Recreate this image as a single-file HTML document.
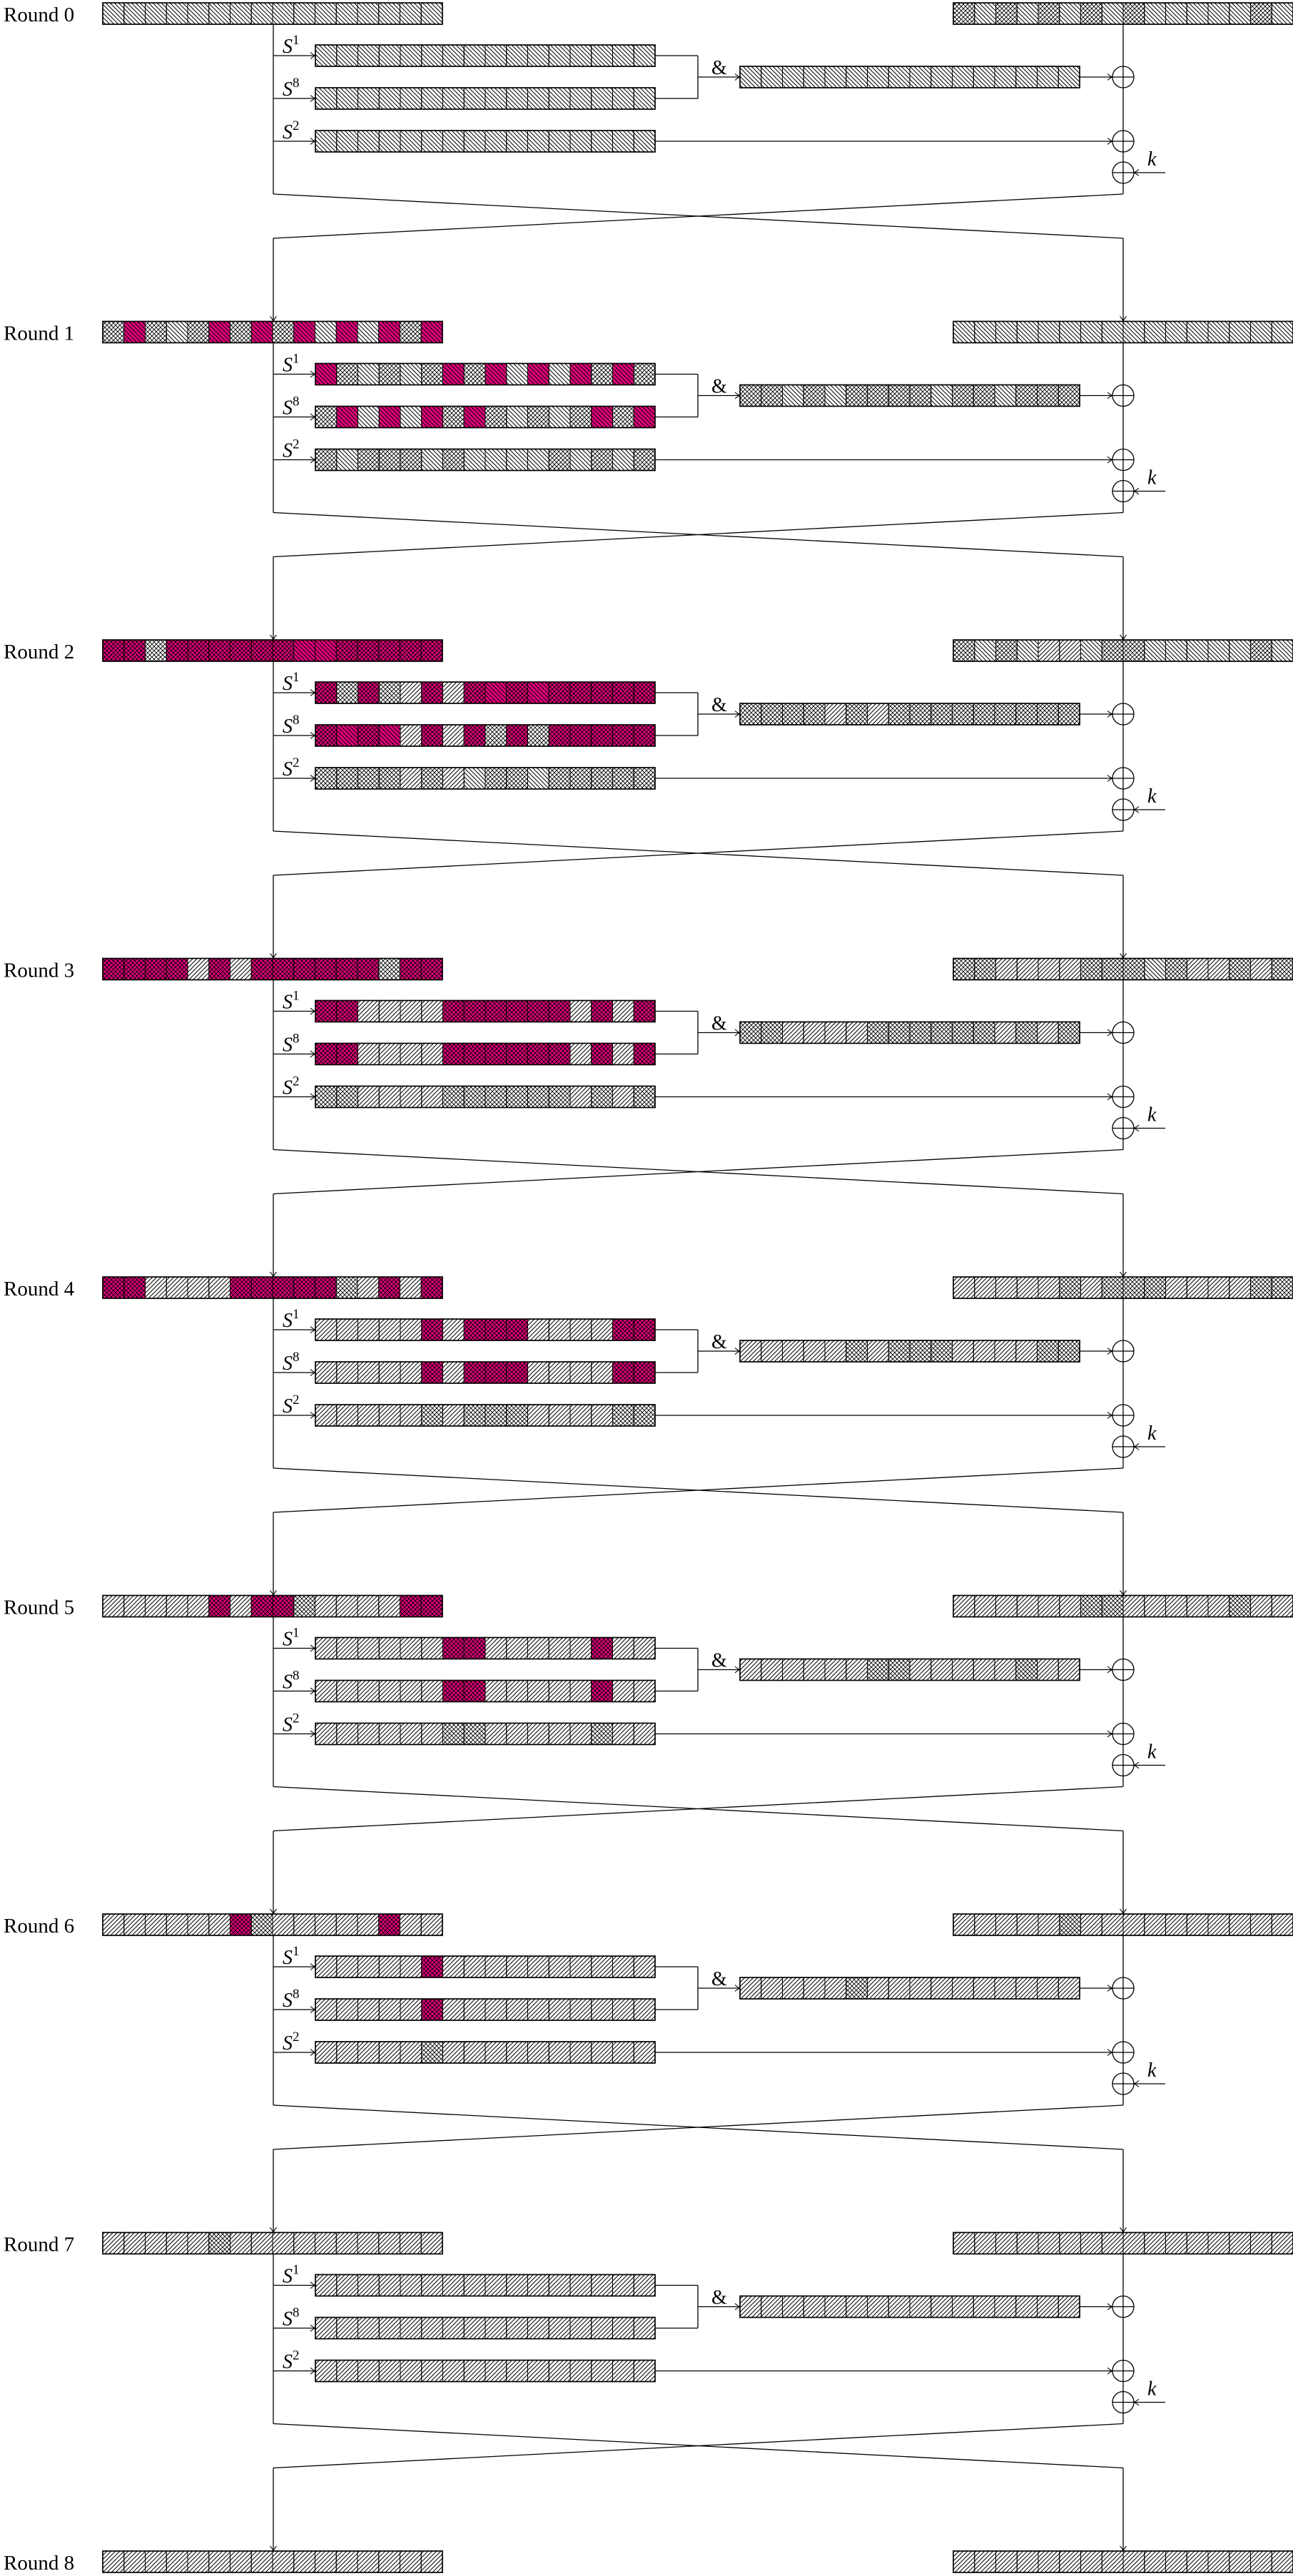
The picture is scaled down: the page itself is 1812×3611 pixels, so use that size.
<!DOCTYPE html>
<html><head><meta charset="utf-8">
<style>
html,body{margin:0;padding:0;background:#fff;}
svg{display:block;}
text{font-family:"Liberation Serif",serif;fill:#000;}
.rl{font-size:29px;}
.s{font-size:28px;font-style:italic;}
.sup{font-size:19px;font-style:normal;}
.amp{font-size:28px;}
.k{font-size:28px;font-style:italic;}
</style></head>
<body>
<svg id="svg" xmlns="http://www.w3.org/2000/svg" width="1812" height="3611" viewBox="0 0 1812 3611">
<defs>
<pattern id="pb" patternUnits="userSpaceOnUse" width="6" height="6"><path d="M0,0L6,6M-1,5L1,7M5,-1L7,1" stroke="#000" stroke-width="1"/></pattern>
<pattern id="pf" patternUnits="userSpaceOnUse" width="6" height="6"><path d="M0,6L6,0M-1,1L1,-1M5,7L7,5" stroke="#000" stroke-width="1"/></pattern>
<pattern id="px" patternUnits="userSpaceOnUse" width="6" height="6"><path d="M0,0L6,6M-1,5L1,7M5,-1L7,1M0,6L6,0M-1,1L1,-1M5,7L7,5" stroke="#000" stroke-width="0.9"/></pattern>
<marker id="ar" markerWidth="12" markerHeight="12" refX="10" refY="6" orient="auto" markerUnits="userSpaceOnUse"><path d="M3,1.5 Q7,5 10,6 Q7,7 3,10.5" fill="none" stroke="#000" stroke-width="1.1"/></marker>
</defs>
<g id="shapes"></g>
<g id="labels">
<text class="rl" x="5" y="30">Round 0</text>
<text class="rl" x="5" y="476.5">Round 1</text>
<text class="rl" x="5" y="923">Round 2</text>
<text class="rl" x="5" y="1369.5">Round 3</text>
<text class="rl" x="5" y="1816">Round 4</text>
<text class="rl" x="5" y="2262.5">Round 5</text>
<text class="rl" x="5" y="2709">Round 6</text>
<text class="rl" x="5" y="3155.5">Round 7</text>
<text class="rl" x="5" y="3602">Round 8</text>

<text class="s" x="396" y="74">S<tspan class="sup" dy="-12">1</tspan></text>
<text class="s" x="396" y="134">S<tspan class="sup" dy="-12">8</tspan></text>
<text class="s" x="396" y="194">S<tspan class="sup" dy="-12">2</tspan></text>
<text class="amp" x="997" y="104">&amp;</text>
<text class="k" x="1608" y="232">k</text>

<text class="s" x="396" y="520.5">S<tspan class="sup" dy="-12">1</tspan></text>
<text class="s" x="396" y="580.5">S<tspan class="sup" dy="-12">8</tspan></text>
<text class="s" x="396" y="640.5">S<tspan class="sup" dy="-12">2</tspan></text>
<text class="amp" x="997" y="550.5">&amp;</text>
<text class="k" x="1608" y="678.5">k</text>

<text class="s" x="396" y="967">S<tspan class="sup" dy="-12">1</tspan></text>
<text class="s" x="396" y="1027">S<tspan class="sup" dy="-12">8</tspan></text>
<text class="s" x="396" y="1087">S<tspan class="sup" dy="-12">2</tspan></text>
<text class="amp" x="997" y="997">&amp;</text>
<text class="k" x="1608" y="1125">k</text>

<text class="s" x="396" y="1413.5">S<tspan class="sup" dy="-12">1</tspan></text>
<text class="s" x="396" y="1473.5">S<tspan class="sup" dy="-12">8</tspan></text>
<text class="s" x="396" y="1533.5">S<tspan class="sup" dy="-12">2</tspan></text>
<text class="amp" x="997" y="1443.5">&amp;</text>
<text class="k" x="1608" y="1571.5">k</text>

<text class="s" x="396" y="1860">S<tspan class="sup" dy="-12">1</tspan></text>
<text class="s" x="396" y="1920">S<tspan class="sup" dy="-12">8</tspan></text>
<text class="s" x="396" y="1980">S<tspan class="sup" dy="-12">2</tspan></text>
<text class="amp" x="997" y="1890">&amp;</text>
<text class="k" x="1608" y="2018">k</text>

<text class="s" x="396" y="2306.5">S<tspan class="sup" dy="-12">1</tspan></text>
<text class="s" x="396" y="2366.5">S<tspan class="sup" dy="-12">8</tspan></text>
<text class="s" x="396" y="2426.5">S<tspan class="sup" dy="-12">2</tspan></text>
<text class="amp" x="997" y="2336.5">&amp;</text>
<text class="k" x="1608" y="2464.5">k</text>

<text class="s" x="396" y="2753">S<tspan class="sup" dy="-12">1</tspan></text>
<text class="s" x="396" y="2813">S<tspan class="sup" dy="-12">8</tspan></text>
<text class="s" x="396" y="2873">S<tspan class="sup" dy="-12">2</tspan></text>
<text class="amp" x="997" y="2783">&amp;</text>
<text class="k" x="1608" y="2911">k</text>

<text class="s" x="396" y="3199.5">S<tspan class="sup" dy="-12">1</tspan></text>
<text class="s" x="396" y="3259.5">S<tspan class="sup" dy="-12">8</tspan></text>
<text class="s" x="396" y="3319.5">S<tspan class="sup" dy="-12">2</tspan></text>
<text class="amp" x="997" y="3229.5">&amp;</text>
<text class="k" x="1608" y="3357.5">k</text>
</g>
</svg>
<script>
(function(){
var NS="http://www.w3.org/2000/svg";
var G=document.getElementById("shapes");
function el(t,a){var e=document.createElementNS(NS,t);for(var k in a)e.setAttribute(k,a[k]);G.appendChild(e);return e;}
function line(x1,y1,x2,y2,arrow){var a={x1:x1,y1:y1,x2:x2,y2:y2,stroke:"#000","stroke-width":1.3};if(arrow)a["marker-end"]="url(#ar)";el("line",a);}
var MAG="#e4007c";
var CW=476/16;
function reg(x,y,s){
  for(var i=0;i<16;i++){
    var c=s[i],cx=x+i*CW;
    var up=(c!==c.toLowerCase());
    if(up) el("rect",{x:cx,y:y,width:CW,height:30,fill:MAG});
    var p=c.toLowerCase();
    el("rect",{x:cx,y:y,width:CW,height:30,fill:"url(#p"+p+")"});
    el("rect",{x:cx,y:y,width:CW,height:30,fill:"none",stroke:"#000","stroke-width":1});
  }
  el("rect",{x:x,y:y,width:476,height:30,fill:"none",stroke:"#000","stroke-width":1.7});
}
function rep(c){return new Array(17).join(c);}
var B=rep("b"),F=rep("f");
var D=[
 [B,B,B,B,B,"xbxbxbxbxbbbbbxb"],
 ["xBxbxBxBxBbBbBxB","BxbxbxBxBbBbBxBx","xBbBbBxBxbxbxBxB","xbxxxbxbbbbxbxbx","xxbxbxxxxbxxbxxx",B],
 ["XXxXXXXXXBBXXXXX","XxXxfXfXBXBXXXXX","XBXBfXfXxXxXXXXX","xxxxfxfbxxbxxxxx","xxxxfxfxxxxxxxxx","xbxbffbxxbbbbbxb"],
 ["XXXXfXfXXXXXXxXX","XXffffXXXXXXfXfX","XXffffXXXXXXfXfX","xxffffxxxxxxfxfx","xxffffxxxxxxfxfx","xxffffxxxbxffxfx"],
 ["XXffffXXXXXxfXfX","fffffXfXXXffffXX","fffffXfXXXffffXX","fffffxfxxxffffxx","fffffxfxxxffffxx","fffffxfxxxffffxx"],
 ["fffffXfXXxffffXX","ffffffXXfffffXff","ffffffXXfffffXff","ffffffxxfffffxff","ffffffxxfffffxff","ffffffxxfffffxff"],
 ["ffffffXxfffffXff","fffffXffffffffff","fffffXffffffffff","fffffxffffffffff","fffffxffffffffff","fffffxffffffffff"],
 ["fffffxffffffffff",F,F,F,F,F],
 [F,null,null,null,null,F]
];
var LX=383,RX=1574;
for(var r=0;r<9;r++){
  var T=4+446.5*r;
  reg(144,T,D[r][0]);
  reg(1336,T,D[r][5]);
  if(r===8) break;
  reg(442,T+59,D[r][1]);
  reg(442,T+119,D[r][2]);
  reg(442,T+179,D[r][3]);
  reg(1037,T+89,D[r][4]);
  line(LX,T+30,LX,T+268);
  line(LX,T+74,442,T+74,true);
  line(LX,T+134,442,T+134,true);
  line(LX,T+194,442,T+194,true);
  line(918,T+74,978,T+74);
  line(918,T+134,978,T+134);
  line(978,T+74,978,T+134);
  line(978,T+104,1037,T+104,true);
  line(1513,T+104,RX-15,T+104,true);
  line(918,T+194,RX-15,T+194,true);
  line(1633,T+238,RX+15,T+238,true);
  line(RX,T+30,RX,T+268);
  [T+104,T+194,T+238].forEach(function(cy){
    el("circle",{cx:RX,cy:cy,r:15,fill:"none",stroke:"#000","stroke-width":1.3});
    line(RX-15,cy,RX+15,cy);
  });
  line(LX,T+268,RX,T+330);
  line(RX,T+268,LX,T+330);
  var NT=4+446.5*(r+1);
  line(LX,T+330,LX,NT,true);
  line(RX,T+330,RX,NT,true);
}
})();
</script>
</body></html>
